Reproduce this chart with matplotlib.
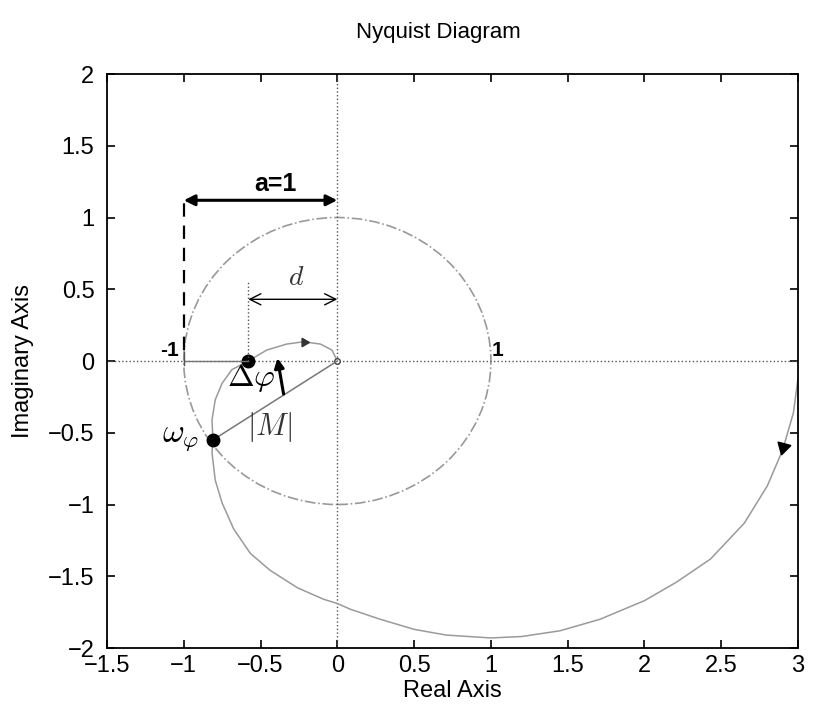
import numpy as np
import matplotlib
matplotlib.use('Agg')
import matplotlib.pyplot as plt
from matplotlib.patches import Circle

plt.rcParams['font.family'] = ['Liberation Sans', 'DejaVu Sans']
plt.rcParams['mathtext.fontset'] = 'cm'

# Nyquist curve (from the right edge towards the origin)
curve_re = [3.0, 2.97, 2.90, 2.80, 2.65, 2.43, 2.21, 2.0, 1.71, 1.45, 1.2, 1.0, 0.71, 0.50,
            0.28, 0.085, 0.0, -0.09, -0.26, -0.436, -0.567, -0.675, -0.75, -0.795, -0.816,
            -0.81, -0.816, -0.795, -0.75, -0.686, -0.58, -0.46, -0.33, -0.22, -0.11, -0.035, 0.0]
curve_im = [-0.12, -0.36, -0.62, -0.87, -1.13, -1.38, -1.54, -1.67, -1.80, -1.88, -1.92, -1.93,
            -1.91, -1.87, -1.80, -1.73, -1.69, -1.66, -1.58, -1.46, -1.34, -1.17, -0.99, -0.83,
            -0.64, -0.55, -0.41, -0.27, -0.155, -0.06, 0.0, 0.076, 0.118, 0.134, 0.118, 0.076, 0.0]

unit_radius = 1.0
w_phi = (-0.81, -0.55)      # point omega_phi
cross_pt = (-0.58, 0.0)     # crossing of the negative real axis
a_arrow_y = 1.12
d_arrow_y = 0.43

xticks = [-1.5, -1, -0.5, 0, 0.5, 1, 1.5, 2, 2.5, 3]
yticks = [-2, -1.5, -1, -0.5, 0, 0.5, 1, 1.5, 2]

fig = plt.figure(figsize=(8.14, 7.15), dpi=100)
ax = fig.add_axes([0.1314, 0.0937, 0.849, 0.8028])

# axes through the origin (dotted)
ax.axhline(0, color='#555555', linestyle=':', linewidth=1.0)
ax.axvline(0, color='#555555', linestyle=':', linewidth=1.0)

# unit circle
ax.add_patch(Circle((0, 0), unit_radius, fill=False, edgecolor='#999999',
                    linestyle='-.', linewidth=1.2))

# Nyquist curve
ax.plot(curve_re, curve_im, color='#9a9a9a', linewidth=1.1)
ax.plot(0, 0, marker='o', markersize=4, markerfacecolor='white',
        markeredgecolor='#444444')

# direction arrows on the curve
ax.plot(curve_re[2], curve_im[2] + 0.02, marker=(3, 0, 165), markersize=11, color='black')
top = int(np.argmax(curve_im))
ax.plot(curve_re[top], curve_im[top], marker=(3, 0, -90), markersize=7, color='#333333')

# omega_phi point and |M| segment
ax.plot([w_phi[0], 0], [w_phi[1], 0], color='#777777', linewidth=1.1)
ax.plot(*w_phi, 'o', color='black', markersize=9)
ax.plot(*cross_pt, 'o', color='black', markersize=9)

# -1 .. crossing point segment
ax.plot([-1, cross_pt[0]], [0, 0], color='#777777', linewidth=1.0)
ax.plot([-1, -1], [-0.03, 0.06], color='#555555', linewidth=1.0)

# vertical helper lines
ax.plot([-1, -1], [0.08, a_arrow_y + 0.02], color='black', linestyle=(0, (6, 4)), linewidth=1.6)
ax.plot([cross_pt[0], cross_pt[0]], [0, 0.56], color='#555555', linestyle=':', linewidth=1.0)

# a=1 arrow
ax.annotate('', xy=(-1, a_arrow_y), xytext=(0, a_arrow_y),
            arrowprops=dict(arrowstyle='<|-|>', color='black', linewidth=2.2,
                            mutation_scale=16, shrinkA=0, shrinkB=0))
ax.text(-0.40, 1.235, 'a=1', fontsize=18, fontweight='bold', ha='center', va='center')

# d arrow
ax.annotate('', xy=(cross_pt[0], d_arrow_y), xytext=(0, d_arrow_y),
            arrowprops=dict(arrowstyle='<->', color='black', linewidth=1.0,
                            mutation_scale=20, shrinkA=0, shrinkB=0))
ax.text(-0.27, 0.58, r'$d$', fontsize=20, ha='center', va='center', color='#333333')

# delta phi arrow
ax.annotate('', xy=(-0.39, 0.02), xytext=(-0.35, -0.23),
            arrowprops=dict(arrowstyle='-|>', color='black', linewidth=2.2,
                            mutation_scale=14, shrinkA=0, shrinkB=0))
ax.text(-0.56, -0.12, r'$\Delta\varphi$', fontsize=23, ha='center', va='center')
ax.text(-0.44, -0.46, r'$|M|$', fontsize=22, ha='center', va='center', color='#333333')
ax.text(-1.02, -0.53, r'$\omega_\varphi$', fontsize=24, ha='center', va='center')

# hand written -1 and 1
ax.text(-1.09, 0.01, '-1', fontsize=15, fontweight='bold', ha='center', va='bottom')
ax.text(1.04, 0.01, '1', fontsize=15, fontweight='bold', ha='center', va='bottom')

ax.set_xlim(-1.5, 3)
ax.set_ylim(-2, 2)
ax.set_xticks(xticks)
ax.set_yticks(yticks)
ax.set_xticklabels(['\u22121.5', '\u22121', '\u22120.5', '0', '0.5', '1', '1.5', '2', '2.5', '3'])
ax.set_yticklabels(['\u22122', '\u22121.5', '\u22121', '\u22120.5', '0', '0.5', '1', '1.5', '2'])
ax.tick_params(direction='in', top=True, right=True, length=6, labelsize=17, width=1.2)
ax.tick_params(axis='x', pad=5)
ax.tick_params(axis='y', pad=9)
for s in ax.spines.values():
    s.set_linewidth(1.3)

ax.set_xlabel('Real Axis', fontsize=17, labelpad=2)
ax.set_ylabel('Imaginary Axis', fontsize=17, labelpad=10)
ax.set_title('Nyquist Diagram', fontsize=16, pad=26, x=0.48)

fig.savefig('out.png', dpi=100)
